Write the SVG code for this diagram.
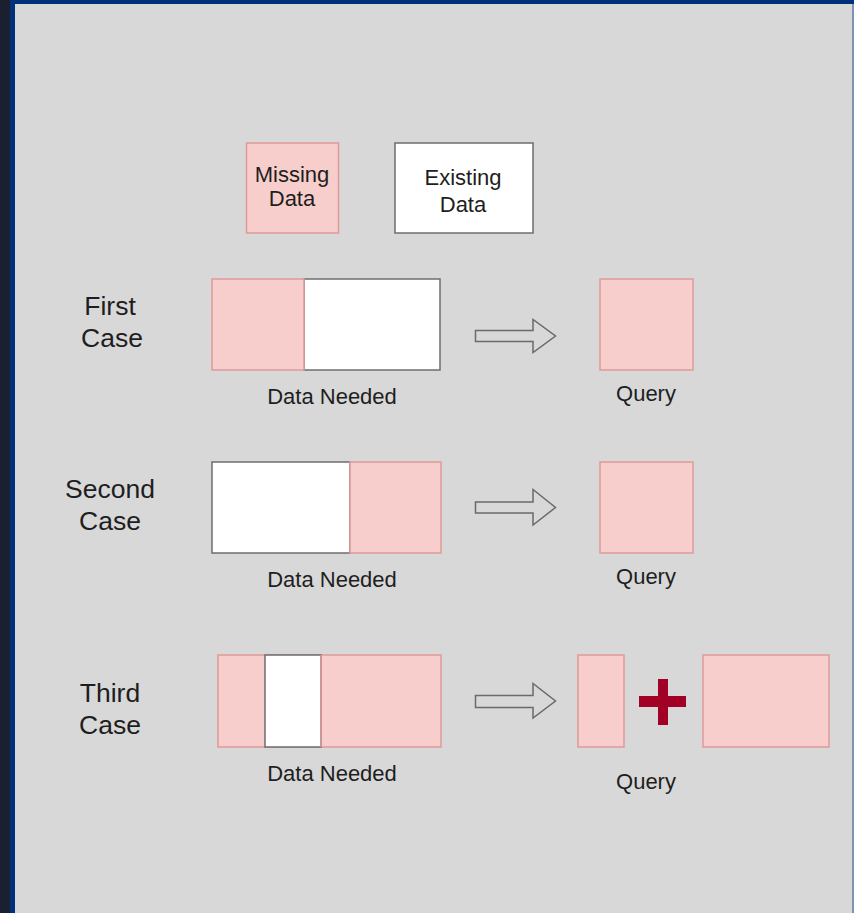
<svg xmlns="http://www.w3.org/2000/svg" width="854" height="913" viewBox="0 0 854 913">
<style>
.miss{fill:#f8cecc;stroke:#de9a98;stroke-width:1.5}
.exist{fill:#ffffff;stroke:#6e6e6e;stroke-width:1.5}
.arrow{fill:#d8d8d8;stroke:#6a6a6a;stroke-width:1.5;stroke-linejoin:miter}
.t{font-family:"Liberation Sans",Arial,Helvetica,sans-serif;fill:#1e1e1e;text-anchor:middle}
.s22{font-size:22px}
.s26{font-size:26.5px}
</style>
<rect x="0" y="0" width="854" height="913" fill="#00307a"/>
<rect x="0" y="0" width="10" height="913" fill="#1b2030"/>
<rect x="15" y="4" width="837" height="909" fill="#d8d8d8"/>
<rect x="852" y="4" width="2" height="909" fill="#7f93b0"/>

<g id="legend-missing">
<rect class="miss" x="246.5" y="143" width="92" height="90"/>
<text class="t s22" x="292" y="182">Missing</text>
<text class="t s22" x="292" y="206">Data</text>
</g>
<g id="legend-existing">
<rect class="exist" x="395" y="143" width="138" height="90"/>
<text class="t s22" x="463" y="185">Existing</text>
<text class="t s22" x="463" y="212">Data</text>
</g>

<g id="label-first"><text class="t s26" x="110" y="315">First</text><text class="t s26" x="112" y="347">Case</text></g>
<g id="label-second"><text class="t s26" x="110" y="498">Second</text><text class="t s26" x="110" y="530">Case</text></g>
<g id="label-third"><text class="t s26" x="110" y="702">Third</text><text class="t s26" x="110" y="734">Case</text></g>

<g id="first-needed">
<rect class="exist" x="304" y="279" width="136" height="91"/>
<rect class="miss" x="212" y="279" width="92" height="91"/>
<text class="t s22" x="332" y="404">Data Needed</text>
</g>
<g id="first-query">
<rect class="miss" x="600" y="279" width="93" height="91"/>
<text class="t s22" x="646" y="401">Query</text>
</g>

<g id="second-needed">
<rect class="exist" x="212" y="462" width="138" height="91"/>
<rect class="miss" x="350" y="462" width="91" height="91"/>
<text class="t s22" x="332" y="587">Data Needed</text>
</g>
<g id="second-query">
<rect class="miss" x="600" y="462" width="93" height="91"/>
<text class="t s22" x="646" y="584">Query</text>
</g>

<g id="third-needed">
<rect class="miss" x="218" y="655" width="223" height="92"/>
<rect class="exist" x="265" y="655" width="56" height="92"/>
<line x1="321" y1="655" x2="321" y2="747" stroke="#de9a98" stroke-width="1.5"/>
<text class="t s22" x="332" y="781">Data Needed</text>
</g>
<g id="third-query">
<rect class="miss" x="578" y="655" width="46" height="92"/>
<rect class="miss" x="703" y="655" width="126" height="92"/>
<rect x="639" y="696" width="47" height="11" fill="#a20025"/>
<rect x="658" y="679" width="10" height="46" fill="#a20025"/>
<text class="t s22" x="646" y="789">Query</text>
</g>

<g id="connectors">
<path class="arrow" d="M475.5 330.5 H533 V319.5 L555.5 336 L533 352.5 V341.5 H475.5 Z"/>
<path class="arrow" d="M475.5 502 H533 V489.5 L555.5 507.5 L533 525 V513 H475.5 Z"/>
<path class="arrow" d="M475.5 695.5 H533 V683.5 L555.5 701 L533 718 V707.5 H475.5 Z"/>
</g>
</svg>
